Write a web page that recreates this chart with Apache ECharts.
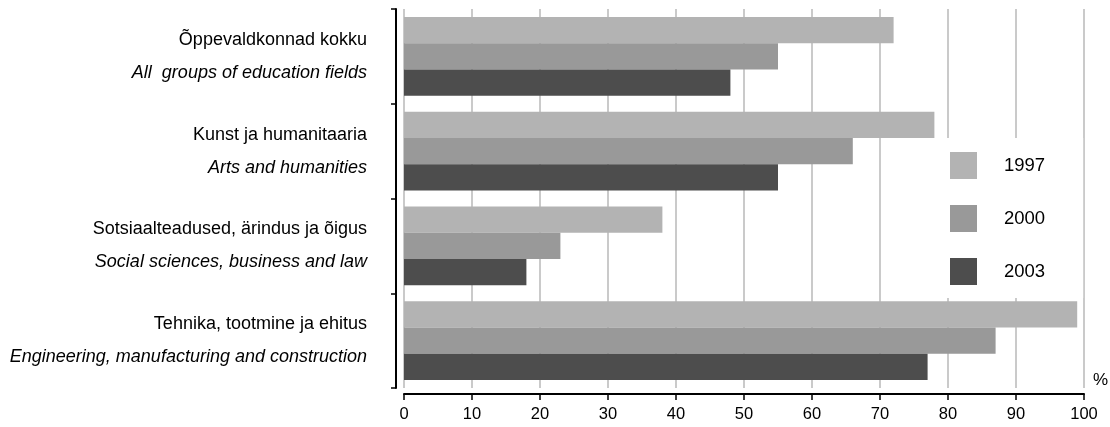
<!DOCTYPE html>
<html>
<head>
<meta charset="utf-8">
<script src="https://cdn.jsdelivr.net/npm/echarts@6/dist/echarts.min.js"></script>
<style>
html,body{margin:0;padding:0;background:#fff;}
#chart{width:1110px;height:427px;}
</style>
</head>
<body>
<div id="chart"></div>
<script>
const categoriesEt = ['Õppevaldkonnad kokku', 'Kunst ja humanitaaria', 'Sotsiaalteadused, ärindus ja õigus', 'Tehnika, tootmine ja ehitus'];
const categoriesEn = ['All  groups of education fields', 'Arts and humanities', 'Social sciences, business and law', 'Engineering, manufacturing and construction'];
const seriesNames = ['1997', '2000', '2003'];
const values1997 = [72, 78, 38, 99];
const values2000 = [55, 66, 23, 87];
const values2003 = [48, 55, 18, 77];
const xTicks = { min: 0, max: 100, interval: 10 };
const unitLabel = '%';

const colors = ['#b3b3b3', '#999999', '#4d4d4d'];
const FONT = '"Liberation Sans", Arial, sans-serif';

const chart = echarts.init(document.getElementById('chart'), null, { renderer: 'canvas' });
const catIdx = categoriesEt.map((_, i) => String(i));

chart.setOption({
  animation: false,
  backgroundColor: '#ffffff',
  grid: { left: 404, right: 26, top: 9, bottom: 39, containLabel: false },
  legend: {
    orient: 'vertical',
    left: 943,
    top: 138,
    padding: [14, 38, 13, 7],
    backgroundColor: '#ffffff',
    itemWidth: 27,
    itemHeight: 27,
    itemGap: 26,
    icon: 'rect',
    data: seriesNames,
    textStyle: { fontFamily: FONT, fontSize: 18.5, color: '#000', padding: [0, 0, 0, 22] },
    z: 10
  },
  xAxis: {
    type: 'value',
    min: xTicks.min,
    max: xTicks.max,
    interval: xTicks.interval,
    offset: 6,
    axisLine: { show: true, onZero: false, lineStyle: { color: '#000', width: 2 } },
    axisTick: { show: true, length: 6, lineStyle: { color: '#000', width: 1.5 } },
    axisLabel: { fontFamily: FONT, fontSize: 16.5, color: '#000', margin: 12 },
    splitLine: { show: true, lineStyle: { color: '#b8b8b8', width: 1.5 } }
  },
  yAxis: {
    type: 'category',
    inverse: true,
    data: catIdx,
    offset: 8,
    axisLine: { show: true, onZero: false, lineStyle: { color: '#000', width: 2 } },
    axisTick: { show: true, length: 5, lineStyle: { color: '#000', width: 1.5 } },
    axisLabel: {
      margin: 29,
      formatter: function (v) {
        const i = Number(v);
        return '{a|' + categoriesEt[i] + '}\n{b|' + categoriesEn[i] + '}';
      },
      rich: {
        a: { fontFamily: FONT, fontSize: 18, color: '#000', lineHeight: 33, align: 'right' },
        b: { fontFamily: FONT, fontSize: 18, fontStyle: 'italic', color: '#000', lineHeight: 33, align: 'right' }
      }
    },
    splitLine: { show: false }
  },
  graphic: [{
    type: 'text',
    left: 1093,
    top: 372,
    style: { text: unitLabel, fontFamily: FONT, fontSize: 17, fill: '#000' }
  }],
  series: [
    { name: seriesNames[0], type: 'bar', data: values1997, itemStyle: { color: colors[0] }, barGap: '0%', barCategoryGap: '17%' },
    { name: seriesNames[1], type: 'bar', data: values2000, itemStyle: { color: colors[1] }, barGap: '0%', barCategoryGap: '17%' },
    { name: seriesNames[2], type: 'bar', data: values2003, itemStyle: { color: colors[2] }, barGap: '0%', barCategoryGap: '17%' }
  ]
});
</script>
</body>
</html>
